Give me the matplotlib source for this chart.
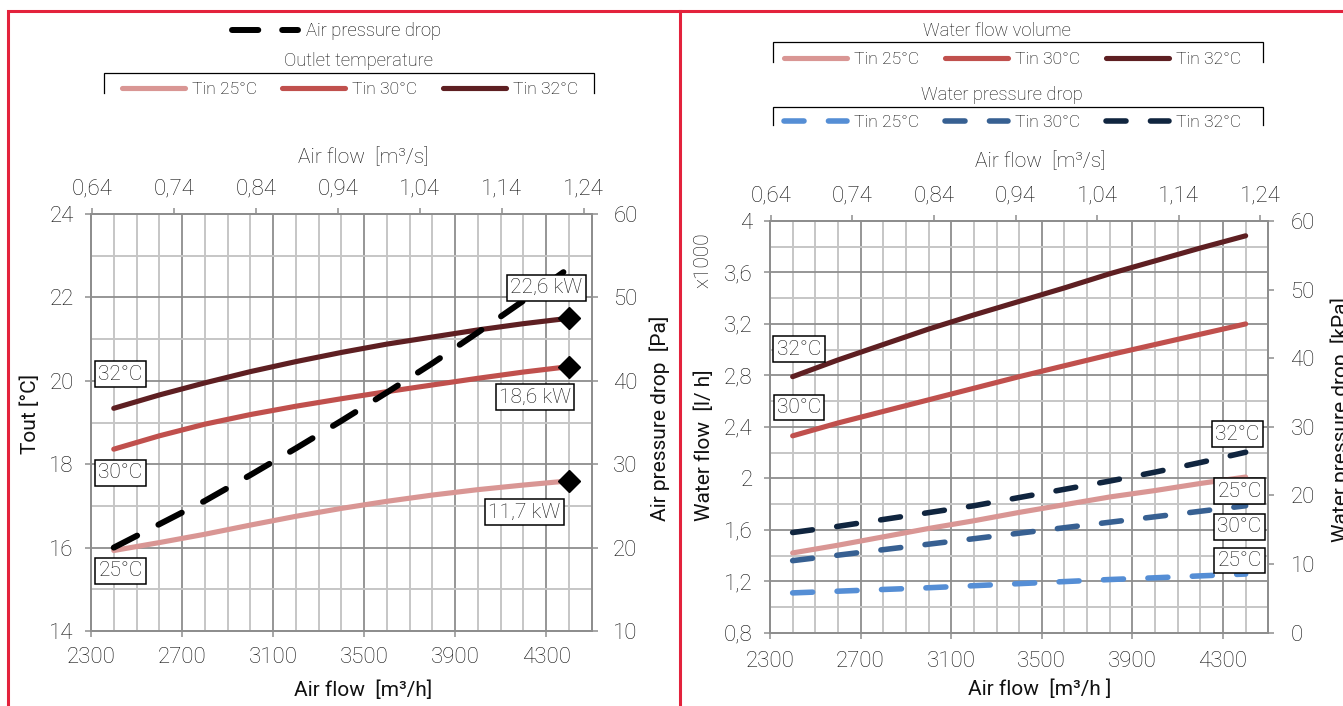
import matplotlib
matplotlib.use("Agg")
import matplotlib.pyplot as plt
from matplotlib.lines import Line2D
from matplotlib.ticker import FixedLocator, MultipleLocator, FuncFormatter

plt.rcParams['font.family'] = ['Roboto', 'DejaVu Sans']
plt.rcParams['font.weight'] = 'light'

W, H, DPI = 1343, 706, 100

# ---------------- data ----------------
airflow = [2400, 2600, 2800, 3000, 3200, 3400, 3600, 3800, 4000, 4200, 4400]

# outlet air temperature [°C] for inlet water 25 / 30 / 32 °C
tout_25 = [15.93, 16.12, 16.32, 16.54, 16.75, 16.94, 17.11, 17.26, 17.39, 17.50, 17.60]
tout_30 = [18.36, 18.68, 18.96, 19.19, 19.39, 19.57, 19.74, 19.90, 20.06, 20.21, 20.34]
tout_32 = [19.34, 19.66, 19.95, 20.22, 20.46, 20.68, 20.88, 21.05, 21.22, 21.37, 21.50]
# air pressure drop [Pa]
air_dp = [20.0, 22.8, 25.6, 28.7, 31.9, 35.2, 38.6, 42.1, 45.8, 49.6, 53.5]

# water flow [l/h x1000]
wf_25 = [1.42, 1.48, 1.545, 1.61, 1.67, 1.735, 1.795, 1.855, 1.905, 1.96, 2.01]
wf_30 = [2.33, 2.43, 2.52, 2.61, 2.70, 2.79, 2.875, 2.96, 3.04, 3.12, 3.20]
wf_32 = [2.79, 2.92, 3.04, 3.16, 3.27, 3.375, 3.48, 3.59, 3.69, 3.79, 3.885]
# water pressure drop [kPa]
wp_25 = [5.8, 6.05, 6.3, 6.55, 6.85, 7.15, 7.45, 7.75, 8.0, 8.28, 8.55]
wp_30 = [10.5, 11.3, 12.1, 12.9, 13.7, 14.5, 15.3, 16.1, 16.9, 17.7, 18.5]
wp_32 = [14.6, 15.5, 16.5, 17.5, 18.5, 19.7, 20.9, 22.1, 23.4, 24.8, 26.3]

capacity_labels = ["11,7 kW", "18,6 kW", "22,6 kW"]
temp_labels = ["25°C", "30°C", "32°C"]
series_labels = ["Tin 25°C", "Tin 30°C", "Tin 32°C"]

x_ticks = [2300, 2700, 3100, 3500, 3900, 4300]
x_top_ticks = [0.64, 0.74, 0.84, 0.94, 1.04, 1.14, 1.24]
tout_ticks = [14, 16, 18, 20, 22, 24]
air_dp_ticks = [10, 20, 30, 40, 50, 60]
wf_ticks = [0.8, 1.2, 1.6, 2.0, 2.4, 2.8, 3.2, 3.6, 4.0]
wp_ticks = [0, 10, 20, 30, 40, 50, 60]

# ---------------- style ----------------
C25, C30, C32 = '#d99694', '#c0504d', '#5e1f22'
B25, B30, B32 = '#558ed5', '#376092', '#10253f'
GRID_MAJ, GRID_MIN = '#8e8e8e', '#c6c6c6'
RED = '#e3223c'
TXT = '#111111'
TICK_FS, LABEL_FS, LEG_FS, BOX_FS = 16, 15, 12.6, 15
LW = 3.7
DASH_LW = 4.0

comma = FuncFormatter(lambda v, p: f"{round(v, 2):g}".replace('.', ','))
comma2 = FuncFormatter(lambda v, p: f"{v:.2f}".replace('.', ','))


def fx(px):
    return px / W


def fy(py):
    return 1 - py / H


def style_axes(ax, twin, ymaj, ymin, lpad, rpad):
    ax.set_xlim(2300, 4500)
    ax.xaxis.set_major_locator(FixedLocator(x_ticks))
    ax.xaxis.set_minor_locator(MultipleLocator(100))
    ax.yaxis.set_major_locator(MultipleLocator(ymaj))
    ax.yaxis.set_minor_locator(MultipleLocator(ymin))
    ax.grid(which='minor', color=GRID_MIN, lw=1.4, zorder=0)
    ax.grid(which='major', color=GRID_MAJ, lw=1.3, zorder=0)
    ax.set_axisbelow(True)
    for a in (ax, twin):
        for s in a.spines.values():
            s.set_color(GRID_MAJ)
            s.set_linewidth(1.3)
        a.tick_params(which='major', direction='out', length=4.5, width=1.1,
                      color=GRID_MAJ, labelsize=TICK_FS, labelcolor=TXT)
        a.tick_params(which='minor', length=0)
    ax.tick_params(axis='x', pad=7)
    ax.tick_params(axis='y', pad=lpad)
    twin.tick_params(axis='y', pad=rpad)
    twin.yaxis.set_minor_locator(plt.NullLocator())
    sec = ax.secondary_xaxis('top', functions=(lambda v: v / 3600, lambda v: v * 3600))
    sec.xaxis.set_major_locator(FixedLocator(x_top_ticks))
    sec.xaxis.set_major_formatter(comma2)
    sec.tick_params(direction='out', length=4.5, width=1.1, color=GRID_MAJ,
                    labelsize=TICK_FS, labelcolor=TXT, pad=6)
    sec.spines['top'].set_color(GRID_MAJ)
    sec.spines['top'].set_linewidth(1.3)
    return sec


def box_text(ax, x, y, s, transform):
    ax.text(x, y, s, transform=transform, fontsize=BOX_FS, color=TXT,
            ha='center', va='center', zorder=10,
            bbox=dict(boxstyle='square,pad=0.16', fc='white', ec='black', lw=1.1))


def bracket(x0, x1, ytop, ybot):
    fig.add_artist(Line2D([fx(x0), fx(x0), fx(x1), fx(x1)],
                          [fy(ybot), fy(ytop), fy(ytop), fy(ybot)],
                          color='black', lw=0.9, solid_joinstyle='miter'))


fig = plt.figure(figsize=(W / DPI, H / DPI), dpi=DPI)

# ================= left panel: outlet temperature & air pressure drop =================
axL = fig.add_axes([fx(91), fy(631), fx(591.7) - fx(91), fy(214) - fy(631)])
axL2 = axL.twinx()
secL = style_axes(axL, axL2, 2, 1, 8.0, 11.0)
axL.set_ylim(14, 24)
axL.yaxis.set_major_locator(FixedLocator(tout_ticks))
axL2.set_ylim(10, 60)
axL2.yaxis.set_major_locator(FixedLocator(air_dp_ticks))

lt25, = axL.plot(airflow, tout_25, color=C25, lw=LW, solid_capstyle='round', zorder=3)
lt30, = axL.plot(airflow, tout_30, color=C30, lw=LW, solid_capstyle='round', zorder=3)
lt32, = axL.plot(airflow, tout_32, color=C32, lw=LW, solid_capstyle='round', zorder=3)
for series in (tout_25, tout_30, tout_32):
    axL.plot(airflow[-1], series[-1], marker='D', ms=11, color='black', zorder=4)

ldp, = axL2.plot(airflow, air_dp, color='black', lw=4.3, dashes=(4.4, 4.0),
                 dash_capstyle='round', zorder=3)

# capacity and inlet temperature tags
box_text(axL2, 4300, 22.23, capacity_labels[2], axL.transData)
box_text(axL2, 4251, 19.61, capacity_labels[1], axL.transData)
box_text(axL2, 4203, 16.85, capacity_labels[0], axL.transData)
box_text(axL2, 2430, 20.16, temp_labels[2], axL.transData)
box_text(axL2, 2430, 17.79, temp_labels[1], axL.transData)
box_text(axL2, 2430, 15.44, temp_labels[0], axL.transData)

axL.set_xlabel("Air flow  [m³/h]", fontsize=LABEL_FS, color=TXT, va='center')
axL.xaxis.set_label_coords(0.5433, -0.1415)
axL.text(0.5433, 1.1367, "Air flow  [m³/s]", transform=axL.transAxes,
         fontsize=LABEL_FS, color=TXT, ha='center', va='center')
axL.set_ylabel("Tout [°C]", fontsize=LABEL_FS, color=TXT, va='center')
axL.yaxis.set_label_coords(-0.1218, 0.52)
axL2.set_ylabel("Air pressure drop  [Pa]", fontsize=LABEL_FS, color=TXT, va='center')
axL2.yaxis.set_label_coords(1.1364, 0.511)

# legends
fig.legend(handles=[ldp], labels=["Air pressure drop"], loc='center',
           bbox_to_anchor=(fx(336.5), fy(31)), frameon=False, fontsize=13.2,
           handlelength=3.6, handletextpad=0.45, borderpad=0, borderaxespad=0)
fig.text(fx(358), fy(61.5), "Outlet temperature", fontsize=13.2, color=TXT,
         ha='center', va='center')
bracket(104, 594, 72.7, 93)
fig.legend(handles=[lt25, lt30, lt32], labels=series_labels, loc='center', ncol=3,
           bbox_to_anchor=(fx(350), fy(89.5)), frameon=False, fontsize=LEG_FS,
           handlelength=3.6, handletextpad=0.4, columnspacing=1.45,
           borderpad=0, borderaxespad=0)

# ================= right panel: water flow & water pressure drop =================
axR = fig.add_axes([fx(770), fy(632.7), fx(1268.3) - fx(770), fy(221) - fy(632.7)])
axR2 = axR.twinx()
secR = style_axes(axR, axR2, 0.4, 0.2, 8.0, 11.5)
axR.set_ylim(0.8, 4.0)
axR.yaxis.set_major_locator(FixedLocator(wf_ticks))
axR.yaxis.set_major_formatter(comma)
axR2.set_ylim(0, 60)
axR2.yaxis.set_major_locator(FixedLocator(wp_ticks))
axR.tick_params(axis='x', pad=9)

lw25, = axR.plot(airflow, wf_25, color=C25, lw=LW, solid_capstyle='round', zorder=3)
lw30, = axR.plot(airflow, wf_30, color=C30, lw=LW, solid_capstyle='round', zorder=3)
lw32, = axR.plot(airflow, wf_32, color=C32, lw=LW, solid_capstyle='round', zorder=3)
lp25, = axR2.plot(airflow, wp_25, color=B25, lw=DASH_LW, dashes=(3.6, 4.4),
                  dash_capstyle='round', zorder=3)
lp30, = axR2.plot(airflow, wp_30, color=B30, lw=DASH_LW, dashes=(3.6, 4.4),
                  dash_capstyle='round', zorder=3)
lp32, = axR2.plot(airflow, wp_32, color=B32, lw=DASH_LW, dashes=(3.6, 4.4),
                  dash_capstyle='round', zorder=3)

box_text(axR2, 2428, 3.005, temp_labels[2], axR.transData)
box_text(axR2, 2428, 2.55, temp_labels[1], axR.transData)
box_text(axR2, 4362, 2.344, temp_labels[2], axR.transData)
box_text(axR2, 4373, 1.90, temp_labels[0], axR.transData)
box_text(axR2, 4373, 1.622, temp_labels[1], axR.transData)
box_text(axR2, 4373, 1.361, temp_labels[0], axR.transData)

axR.set_xlabel("Air flow  [m³/h ]", fontsize=LABEL_FS, color=TXT, va='center')
axR.xaxis.set_label_coords(0.542, -0.137)
axR.text(0.542, 1.144, "Air flow  [m³/s]", transform=axR.transAxes,
         fontsize=LABEL_FS, color=TXT, ha='center', va='center')
axR.set_ylabel("Water flow  [l/ h]", fontsize=LABEL_FS, color=TXT, va='center')
axR.yaxis.set_label_coords(-0.1325, 0.456)
axR.text(-0.1345, 0.905, "x1000", transform=axR.transAxes, rotation=90,
         fontsize=LABEL_FS, color=TXT, ha='center', va='center')
axR2.set_ylabel("Water pressure drop  [kPa]", fontsize=LABEL_FS, color=TXT, va='center')
axR2.yaxis.set_label_coords(1.146, 0.517)

fig.text(fx(997), fy(31.5), "Water flow volume", fontsize=13.2, color=TXT,
         ha='center', va='center')
bracket(773, 1263, 42.3, 61.7)
fig.legend(handles=[lw25, lw30, lw32], labels=series_labels, loc='center', ncol=3,
           bbox_to_anchor=(fx(1012.5), fy(59.5)), frameon=False, fontsize=LEG_FS,
           handlelength=3.6, handletextpad=0.4, columnspacing=1.45,
           borderpad=0, borderaxespad=0)
fig.text(fx(1002), fy(95), "Water pressure drop", fontsize=13.2, color=TXT,
         ha='center', va='center')
bracket(773, 1263, 106.7, 125)
fig.legend(handles=[lp25, lp30, lp32], labels=series_labels, loc='center', ncol=3,
           bbox_to_anchor=(fx(1012.5), fy(122)), frameon=False, fontsize=LEG_FS,
           handlelength=3.6, handletextpad=0.4, columnspacing=1.45,
           borderpad=0, borderaxespad=0)

# panel frames
for xs, ys in (([7.5, 7.5, W], [H, 10.5, 10.5]), ([679.5, 679.5], [10.5, H])):
    fig.add_artist(Line2D([fx(v) for v in xs], [fy(v) for v in ys], color=RED, lw=2.2,
                          solid_joinstyle='miter'))

fig.savefig("out.png", dpi=DPI)
